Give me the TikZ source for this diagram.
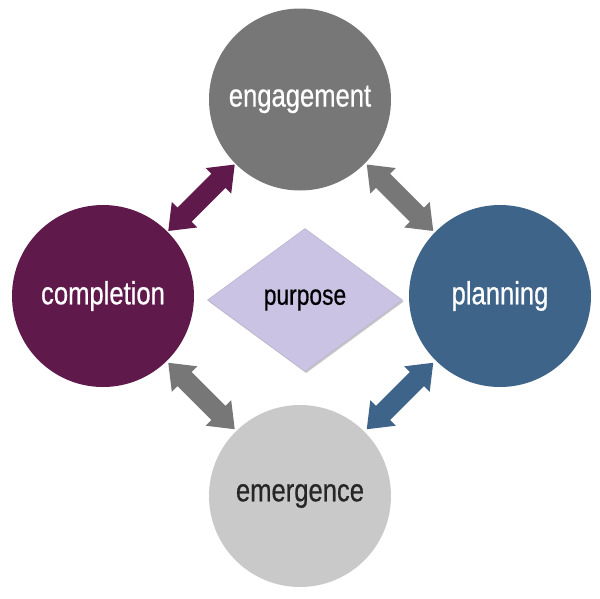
\documentclass[tikz,border=0pt]{standalone}
\usepackage{fontspec}
\setmainfont{Liberation Sans}[FakeStretch=0.8,FakeBold=0.6]
\usetikzlibrary{calc,shapes.geometric,shadows}
\definecolor{cgray}{HTML}{777777}
\definecolor{clight}{HTML}{C9C9C9}
\definecolor{cpurple}{HTML}{5F1A4B}
\definecolor{cblue}{HTML}{3F6489}
\definecolor{cdiam}{HTML}{CAC3E3}
\newcommand\dblblockarrow[4]{%
  \begin{scope}[shift={($(#1)!0.5!(#2)$)},rotate=#3]
    \fill[#4] (-47pt,0pt) -- (-24pt,18pt) -- (-24pt,10pt) -- (24pt,10pt) -- (24pt,18pt)
      -- (47pt,0pt) -- (24pt,-18pt) -- (24pt,-10pt) -- (-24pt,-10pt) -- (-24pt,-18pt) -- cycle;
  \end{scope}}
\begin{document}
\begin{tikzpicture}[x=1pt,y=-1pt,
  stage/.style={circle,minimum size=182pt,inner sep=0pt,text=white,font=\fontsize{32}{36}\selectfont}]
\useasboundingbox (0,0) rectangle (600,598);
\node[stage,fill=cgray] (E) at (300,99.5) {engagement};
\node[stage,fill=cpurple] (C) at (103,296) {completion};
\node[stage,fill=cblue] (P) at (500,296) {planning};
\node[stage,fill=clight,text=black!85] (M) at (300,496) {emergence};
\node[diamond,minimum width=195pt,minimum height=143pt,inner sep=0pt,aspect=1.36,
  fill=cdiam,draw=cdiam!80!gray,line width=0.6pt,
  drop shadow={shadow xshift=1.2pt,shadow yshift=-1.6pt,fill=gray!55,opacity=0.8},
  font=\fontsize{28.5}{32}\selectfont] (D) at (305,300) {purpose};
\dblblockarrow{C}{E}{45}{cpurple}
\dblblockarrow{E}{P}{-45}{cgray}
\dblblockarrow{P}{M}{45}{cblue}
\dblblockarrow{C}{M}{-45}{cgray}
\end{tikzpicture}
\end{document}
